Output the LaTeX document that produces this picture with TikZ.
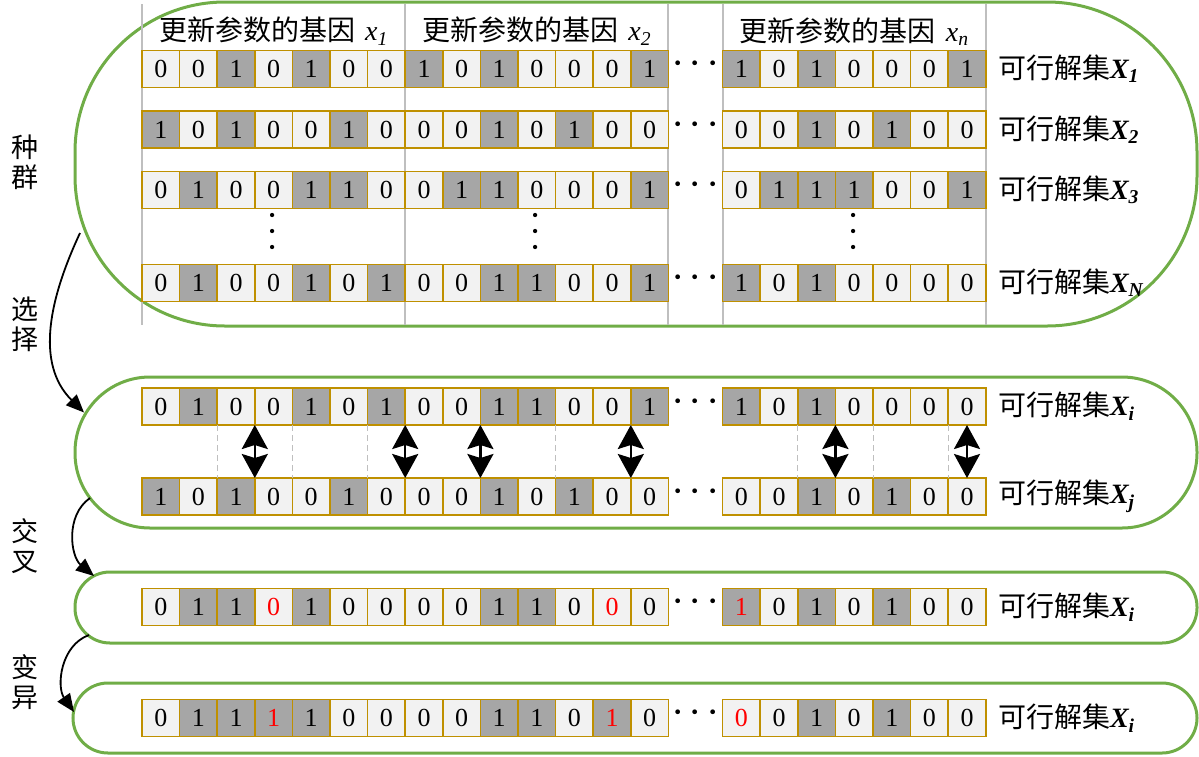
\documentclass[tikz,border=0pt]{standalone}
\usepackage{fontspec}
\setmainfont{Liberation Serif}
\newfontfamily\cjk{Noto Sans CJK SC}
\usepackage{tikz}
\usetikzlibrary{arrows.meta, positioning, calc}
\definecolor{groupgreen}{RGB}{112, 173, 71}
\definecolor{cellline}{RGB}{191, 144, 0}
\definecolor{zerofill}{RGB}{242, 242, 242}
\definecolor{onefill}{RGB}{166, 166, 166}
\definecolor{gridgray}{RGB}{191, 191, 191}
\tikzset{
    cell/.style = {rectangle, draw=cellline, line width=1.5pt, inner sep=0pt, outer sep=0pt, minimum width=37.6pt, minimum height=37pt, font=\fontsize{26}{26}\selectfont},
    bit0/.style = {cell, fill=zerofill, node contents=0},
    bit1/.style = {cell, fill=onefill, node contents=1},
    bitm0/.style = {bit0, text=red},
    bitm1/.style = {bit1, text=red},
    group/.style = {rectangle, draw=groupgreen, line width=3pt, outer sep=0pt, minimum width=1122pt},
    head/.style = {inner sep=0pt, font=\cjk\fontsize{28}{28}\selectfont},
    setlabel/.style = {inner sep=0pt, font=\cjk\fontsize{28}{28}\selectfont},
    side/.style = {inner sep=0pt, align=center, font=\cjk\fontsize{27}{30}\selectfont},
    hdots/.style = {inner sep=0pt, font=\fontsize{40}{40}\selectfont},
    vdots/.style = {inner sep=0pt, font=\fontsize{36}{36}\selectfont, rotate=90},
    gridline/.style = {draw=gridgray, line width=2pt},
    sepline/.style = {draw=gridgray, line width=1pt, dash pattern=on 6pt off 4pt},
    xover/.style = {line width=2.5pt, {Stealth[length=24pt, width=26pt, inset=4pt]}-{Stealth[length=24pt, width=26pt, inset=4pt]}},
    flow/.style = {line width=1.8pt, -{Triangle[length=18pt, width=15pt]}}
}
\newcommand{\threedots}{·\hspace{4pt}·\hspace{4pt}·}

% one chromosome: row name, y, 21 bits (m0/m1 = changed bit, red)
\newcommand{\chromrow}[3]{%
  \foreach \b [count=\i from 0] in {#3} {
    \pgfmathsetmacro{\cx}{142+37.6*(mod(\i,7)+0.5)+263.2*div(\i,7)+54.2*(\i>13)}
    \node (#1-\i) at (\cx,#2) [bit\b];
  }
  \path (#1-13) -- (#1-14) node[hdots, midway] (#1-dots) {\threedots};
}

\begin{document}
\begin{tikzpicture}[x=1pt, y=-1pt]
\useasboundingbox (0,0) rectangle (1199,756);

% Groups
\node[group, rounded corners=150pt, minimum height=324pt] (pop) at (636,164) {};
\node[group, rounded corners=75pt, minimum height=151pt] (cross) at (636,452.5) {};
\node[group, rounded corners=35pt, minimum height=71pt] (crossres) at (636,607.5) {};
\node[group, rounded corners=35pt, minimum height=70pt, minimum width=1124pt] (mut) at (635,718) {};

% Gene columns
\foreach \gx in {142,405.2,668.4,722.6,985.8}
  \draw[gridline] (\gx,4) -- (\gx,325);

% Population
\chromrow{xa}{69}{0,0,1,0,1,0,0,1,0,1,0,0,0,1,1,0,1,0,0,0,1}
\chromrow{xb}{129.5}{1,0,1,0,0,1,0,0,0,1,0,1,0,0,0,0,1,0,1,0,0}
\chromrow{xc}{190}{0,1,0,0,1,1,0,0,1,1,0,0,0,1,0,1,1,1,0,0,1}
\chromrow{xn}{283}{0,1,0,0,1,0,1,0,0,1,1,0,0,1,1,0,1,0,0,0,0}

\node[head, above=5pt of xa-3] (h1) {更新参数的基因\hspace{10pt}{\rmfamily\fontsize{28}{28}\selectfont\textit{x\textsubscript{1}}}};
\node[head, above=5pt of xa-10] (h2) {更新参数的基因\hspace{10pt}{\rmfamily\fontsize{28}{28}\selectfont\textit{x\textsubscript{2}}}};
\node[head, above=5pt of xa-17] (h3) {更新参数的基因\hspace{10pt}{\rmfamily\fontsize{28}{28}\selectfont\textit{x\textsubscript{n}}}};

\foreach \k in {3,10,17}
  \node[vdots] (vd\k) at ($(xc-\k)!0.5!(xn-\k)+(4,-5)$) {\threedots};

\node[setlabel, right=12pt of xa-20] (la) {可行解集{\rmfamily\textbf{\textit{X\textsubscript{1}}}}};
\node[setlabel, right=12pt of xb-20] (lb) {可行解集{\rmfamily\textbf{\textit{X\textsubscript{2}}}}};
\node[setlabel, right=12pt of xc-20] (lc) {可行解集{\rmfamily\textbf{\textit{X\textsubscript{3}}}}};
\node[setlabel, right=12pt of xn-20] (ln) {可行解集{\rmfamily\textbf{\textit{X\textsubscript{N}}}}};

% Crossover
\chromrow{xi}{406.5}{0,1,0,0,1,0,1,0,0,1,1,0,0,1,1,0,1,0,0,0,0}
\chromrow{xj}{496.5}{1,0,1,0,0,1,0,0,0,1,0,1,0,0,0,0,1,0,1,0,0}
\foreach \k in {1,3,5,8,10,12,15,17,19}
  \draw[sepline] (xi-\k.south east) -- (xj-\k.north east);
\foreach \k in {2,6,8,12,16}
  \draw[xover] (xi-\k.south east) -- (xj-\k.north east);
\draw[xover] (xi-20.south) -- (xj-20.north);
\node[setlabel, right=12pt of xi-20] (li) {可行解集{\rmfamily\textbf{\textit{X\textsubscript{i}}}}};
\node[setlabel, right=12pt of xj-20] (lj) {可行解集{\rmfamily\textbf{\textit{X\textsubscript{j}}}}};

% After crossover, after mutation
\chromrow{xr}{607}{0,1,1,m0,1,0,0,0,0,1,1,0,m0,0,m1,0,1,0,1,0,0}
\node[setlabel, right=12pt of xr-20] (lr) {可行解集{\rmfamily\textbf{\textit{X\textsubscript{i}}}}};
\chromrow{xm}{718}{0,1,1,m1,1,0,0,0,0,1,1,0,m1,0,m0,0,1,0,1,0,0}
\node[setlabel, right=12pt of xm-20] (lm) {可行解集{\rmfamily\textbf{\textit{X\textsubscript{i}}}}};

% Steps
\node[side] (lpop) at (25,162) {种\\群};
\node[side] (lsel) at (25,324) {选\\择};
\node[side] (lcro) at (25,546) {交\\叉};
\node[side] (lmut) at (25,682) {变\\异};

% Arrows
\draw[flow] ([shift={(5,69)}]pop.west) to[out=245, in=135] ([shift={(9,-40)}]cross.west);
\draw[flow] ([shift={(15,45.5)}]cross.west) to[out=215, in=140] ([shift={(19,-31.5)}]crossres.west);
\draw[flow] ([shift={(14,27.5)}]crossres.west) to[out=200, in=125] ([shift={(1,-6)}]mut.west);

\end{tikzpicture}
\end{document}
